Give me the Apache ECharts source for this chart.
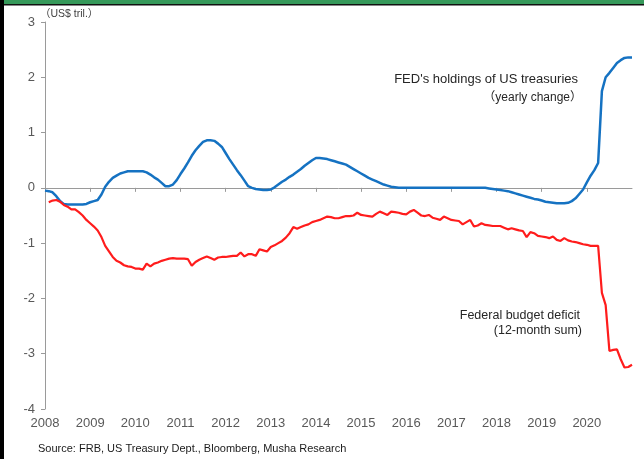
<!DOCTYPE html>
<html>
<head>
<meta charset="utf-8">
<script src="https://cdn.jsdelivr.net/npm/echarts@6/dist/echarts.min.js"></script>
<style>
  html, body { margin: 0; padding: 0; background: #fff; }
  #chart { width: 644px; height: 459px; }
</style>
</head>
<body>
<div id="chart"></div>
<script>
// monthly values, Jan 2008 .. Jan 2021 (US$ tril.)
var startYear = 2008;
var yearLabels = [2008, 2009, 2010, 2011, 2012, 2013, 2014, 2015, 2016, 2017, 2018, 2019, 2020];

var fedChange = [
  -0.05, -0.06, -0.08, -0.15, -0.24, -0.29, -0.30, -0.30, -0.30, -0.30, -0.30, -0.29, // 2008
  -0.26, -0.24, -0.22, -0.12, 0.02, 0.11, 0.18, 0.22, 0.26, 0.28, 0.30, 0.30,         // 2009
  0.30, 0.30, 0.30, 0.28, 0.24, 0.19, 0.15, 0.09, 0.03, 0.03, 0.06, 0.14,             // 2010
  0.25, 0.35, 0.46, 0.58, 0.68, 0.76, 0.83, 0.86, 0.86, 0.85, 0.80, 0.74,             // 2011
  0.63, 0.52, 0.42, 0.32, 0.23, 0.13, 0.03, 0.00, -0.02, -0.03, -0.04, -0.04,         // 2012
  -0.03, 0.01, 0.06, 0.11, 0.15, 0.20, 0.24, 0.29, 0.34, 0.40, 0.45, 0.50,            // 2013
  0.54, 0.54, 0.53, 0.52, 0.50, 0.48, 0.46, 0.44, 0.42, 0.38, 0.34, 0.30,             // 2014
  0.26, 0.22, 0.18, 0.15, 0.12, 0.09, 0.06, 0.04, 0.02, 0.01, 0.00, 0.00,             // 2015
  0, 0, 0, 0, 0, 0, 0, 0, 0, 0, 0, 0,                                                 // 2016
  0, 0, 0, 0, 0, 0, 0, 0, 0, 0, -0.01, -0.02,                                         // 2017
  -0.03, -0.04, -0.05, -0.06, -0.08, -0.10, -0.12, -0.14, -0.16, -0.18, -0.20, -0.21, // 2018
  -0.23, -0.25, -0.26, -0.27, -0.28, -0.28, -0.28, -0.27, -0.24, -0.19, -0.11, -0.03, // 2019
  0.10, 0.22, 0.32, 0.45, 1.75, 2.00, 2.08, 2.17, 2.26, 2.31, 2.35, 2.36,             // 2020
  2.36                                                                                // 2021
];

var deficit = [
  null, -0.26, -0.23, -0.22, -0.25, -0.31, -0.34, -0.39, -0.39, -0.44, -0.50, -0.58,  // 2008
  -0.64, -0.70, -0.77, -0.89, -1.05, -1.15, -1.25, -1.32, -1.35, -1.40, -1.42, -1.43, // 2009
  -1.46, -1.46, -1.48, -1.37, -1.42, -1.37, -1.35, -1.32, -1.30, -1.28, -1.27, -1.28, // 2010
  -1.28, -1.28, -1.29, -1.41, -1.34, -1.30, -1.27, -1.24, -1.27, -1.30, -1.26, -1.25, // 2011
  -1.25, -1.24, -1.23, -1.23, -1.17, -1.24, -1.20, -1.20, -1.23, -1.11, -1.13, -1.15, // 2012
  -1.07, -1.04, -1.00, -0.96, -0.90, -0.82, -0.71, -0.74, -0.71, -0.68, -0.66, -0.62, // 2013
  -0.60, -0.58, -0.55, -0.52, -0.53, -0.55, -0.55, -0.53, -0.51, -0.51, -0.50, -0.45, // 2014
  -0.49, -0.50, -0.51, -0.52, -0.47, -0.43, -0.46, -0.49, -0.43, -0.44, -0.45, -0.47, // 2015
  -0.48, -0.43, -0.40, -0.45, -0.50, -0.51, -0.49, -0.54, -0.56, -0.58, -0.52, -0.55, // 2016
  -0.58, -0.59, -0.60, -0.66, -0.62, -0.58, -0.70, -0.68, -0.64, -0.67, -0.68, -0.69, // 2017
  -0.69, -0.69, -0.72, -0.75, -0.73, -0.75, -0.77, -0.78, -0.89, -0.80, -0.82, -0.87, // 2018
  -0.88, -0.89, -0.91, -0.88, -0.94, -0.96, -0.91, -0.95, -0.97, -0.98, -1.00, -1.02, // 2019
  -1.03, -1.05, -1.05, -1.05, -1.90, -2.12, -2.95, -2.93, -2.92, -3.10, -3.25, -3.24, // 2020
  -3.20                                                                               // 2021
];

var yMin = -4, yMax = 3;
var fontFam = '"Liberation Sans", Arial, "Noto Sans CJK SC", sans-serif';

function toPairs(values) {
  return values.map(function (v, i) { return [startYear + i / 12, v]; });
}

var chart = echarts.init(document.getElementById('chart'), null, { renderer: 'canvas' });

chart.setOption({
  animation: false,
  backgroundColor: '#fff',
  grid: { left: 45, right: 12, top: 22, bottom: 50 },
  xAxis: [
    {
      // zero line with downward ticks (no tick at the right end)
      type: 'value',
      min: 2008,
      max: 2021,
      interval: 1,
      position: 'bottom',
      axisLine: { show: true, onZero: true, lineStyle: { color: '#9a9a9a', width: 1 } },
      axisTick: { show: true, length: 4, customValues: yearLabels, lineStyle: { color: '#9a9a9a', width: 1 } },
      axisLabel: { show: true, customValues: yearLabels, formatter: function () { return ''; } },
      splitLine: { show: false }
    },
    {
      // year labels at the bottom of the plot
      type: 'value',
      min: 2008,
      max: 2021,
      interval: 1,
      position: 'bottom',
      axisLine: { show: false, onZero: false },
      axisTick: { show: false },
      splitLine: { show: false },
      axisLabel: {
        customValues: yearLabels,
        color: '#595959',
        fontSize: 13,
        fontFamily: fontFam,
        margin: 8,
        formatter: function (v) { return String(v); }
      }
    }
  ],
  yAxis: {
    type: 'value',
    min: yMin,
    max: yMax,
    interval: 1,
    axisLine: { show: true, onZero: false, lineStyle: { color: '#9a9a9a', width: 1 } },
    axisTick: { show: true, length: 4, lineStyle: { color: '#9a9a9a' } },
    splitLine: { show: false },
    axisLabel: { color: '#595959', fontSize: 13, fontFamily: fontFam, margin: 10 }
  },
  series: [
    {
      name: "FED's holdings of US treasuries",
      type: 'line',
      xAxisIndex: 0,
      data: toPairs(fedChange),
      showSymbol: false,
      lineStyle: { color: '#1572c2', width: 2.5 },
      z: 3
    },
    {
      name: 'Federal budget deficit',
      type: 'line',
      xAxisIndex: 0,
      data: toPairs(deficit),
      showSymbol: false,
      connectNulls: false,
      lineStyle: { color: '#ff1c1c', width: 2.2 },
      z: 3
    }
  ],
  graphic: [
    { type: 'rect', shape: { x: 0, y: 0, width: 644, height: 4 }, style: { fill: '#36995a' }, silent: true },
    { type: 'rect', shape: { x: 0, y: 4, width: 644, height: 1.5 }, style: { fill: '#111' }, silent: true },
    { type: 'rect', shape: { x: 0, y: 0, width: 4, height: 459 }, style: { fill: '#000' }, silent: true },
    {
      type: 'text', left: 40, top: 9,
      style: { text: '（US$ tril.）', font: '10.5px ' + fontFam, fill: '#404040' }
    },
    {
      type: 'text', right: 66, top: 73,
      style: { text: "FED's holdings of US treasuries", font: '13px ' + fontFam, fill: '#262626' }
    },
    {
      type: 'text', right: 62, top: 92,
      style: { text: '（yearly change）', font: '12px ' + fontFam, fill: '#262626' }
    },
    {
      type: 'text', right: 64, top: 309,
      style: { text: 'Federal budget deficit', font: '12.5px ' + fontFam, fill: '#262626' }
    },
    {
      type: 'text', right: 62, top: 324,
      style: { text: '(12-month sum)', font: '12.5px ' + fontFam, fill: '#262626' }
    },
    {
      type: 'text', left: 38, top: 443,
      style: { text: 'Source: FRB, US Treasury Dept., Bloomberg, Musha Research', font: '11px ' + fontFam, fill: '#1a1a1a' }
    }
  ]
});
</script>
</body>
</html>
